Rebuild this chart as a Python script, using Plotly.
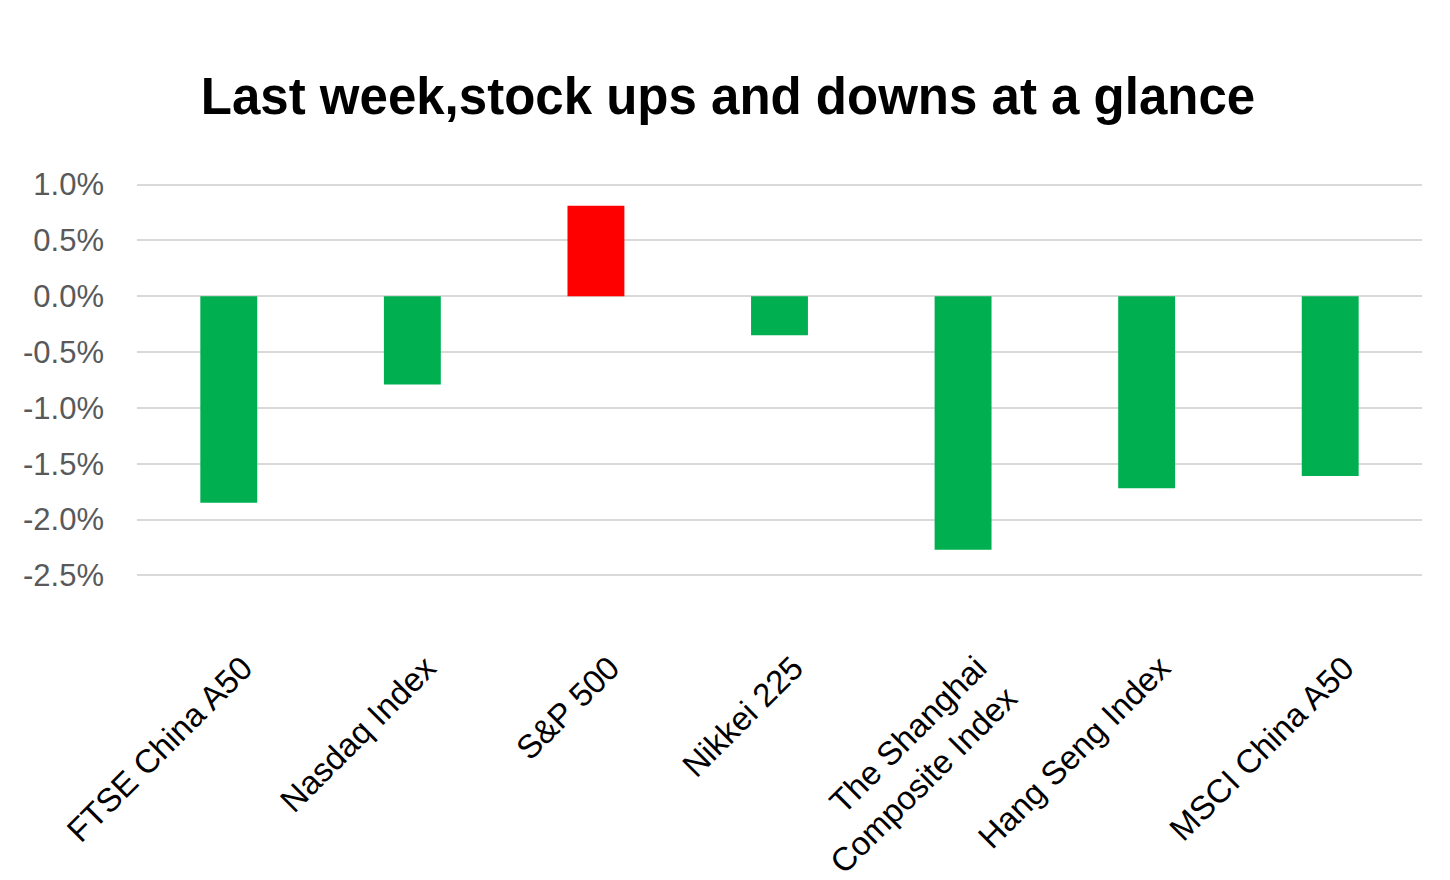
import plotly.graph_objects as go

categories = ["FTSE China A50", "Nasdaq Index", "S&P 500", "Nikkei 225",
              "The Shanghai<br>Composite Index", "Hang Seng Index", "MSCI China A50"]
changes = [-1.85, -0.79, 0.81, -0.35, -2.27, -1.72, -1.61]  # percent
tick_vals = [1.0, 0.5, 0.0, -0.5, -1.0, -1.5, -2.0, -2.5]
tick_text = ["1.0%", "0.5%", "0.0%", "-0.5%", "-1.0%", "-1.5%", "-2.0%", "-2.5%"]

up_color = "#ff0000"
down_color = "#00b050"
colors = [up_color if v > 0 else down_color for v in changes]

fig = go.Figure(go.Bar(
    x=categories,
    y=[v / 100 for v in changes],
    marker=dict(color=colors, line=dict(width=0)),
    width=0.31,
))

fig.update_layout(
    width=1450, height=880,
    paper_bgcolor="white", plot_bgcolor="white",
    margin=dict(l=129, r=36, t=171, b=307),
    showlegend=False,
    title=dict(
        text="<b>Last week,stock ups and downs at a glance</b>",
        x=720 / 1450, xanchor="center", xref="container",
        y=1 - 88 / 880, yanchor="middle", yref="container",
        font=dict(family="Liberation Sans, Arial", size=51, color="black"),
    ),
    font=dict(family="Liberation Sans, Arial"),
)

fig.update_yaxes(
    range=[-0.0255, 0.0105],
    tickvals=[v / 100 for v in tick_vals],
    ticktext=tick_text,
    tickfont=dict(size=31, color="#595959"),
    showgrid=True, gridcolor="#d9d9d9", gridwidth=2,
    zeroline=False, showline=False, ticks="",
    ticklabelstandoff=32,
    automargin=False,
)
fig.update_xaxes(
    tickangle=-45,
    tickfont=dict(size=33, color="black"),
    showline=False, ticks="", showgrid=False,
    ticklabelstandoff=60,
    ticklabelshift=14,
    automargin=False,
)

fig.write_html("out.html")
